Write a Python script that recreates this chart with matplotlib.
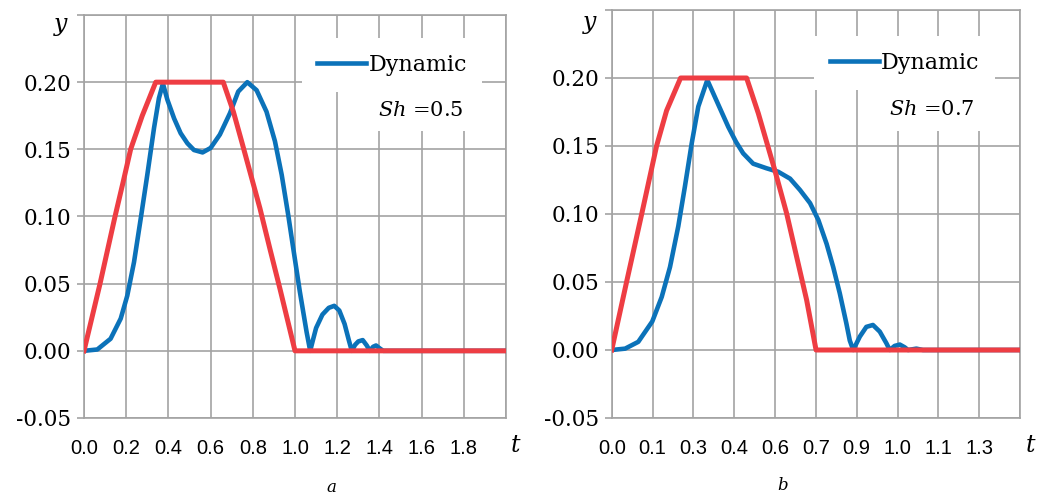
import matplotlib
matplotlib.use("Agg")
import matplotlib.pyplot as plt

plt.rcParams['mathtext.fontset'] = 'dejavuserif'

'''
Data read from the two panels
'''
# panel a, Sh = 0.5
t_red_a = [0.0, 0.076, 0.147, 0.186, 0.221, 0.276, 0.34, 0.66, 0.708, 0.747,
           0.787, 0.834, 0.881, 0.929, 1.0, 2.0]
y_red_a = [0.0, 0.05, 0.10, 0.126, 0.15, 0.175, 0.20, 0.20, 0.178, 0.156,
           0.133, 0.106, 0.076, 0.046, 0.0, 0.0]

t_blue_a = [0.0, 0.063, 0.126, 0.174, 0.205, 0.237, 0.269, 0.30, 0.332, 0.355,
            0.374, 0.395, 0.427, 0.458, 0.49, 0.521, 0.562, 0.60, 0.644, 0.692,
            0.731, 0.774, 0.818, 0.865, 0.905, 0.937, 0.968, 0.992, 1.023, 1.055,
            1.072, 1.085, 1.10, 1.13, 1.16, 1.186, 1.21, 1.235, 1.255, 1.269,
            1.285, 1.30, 1.321, 1.34, 1.355, 1.37, 1.384, 1.40, 1.418, 2.0]
y_blue_a = [0.0, 0.001, 0.009, 0.024, 0.041, 0.066, 0.0986, 0.131, 0.166, 0.188,
            0.199, 0.187, 0.173, 0.162, 0.1545, 0.1495, 0.1477, 0.151, 0.161, 0.177,
            0.193, 0.200, 0.194, 0.178, 0.156, 0.131, 0.101, 0.076, 0.044, 0.014,
            0.0, 0.008, 0.017, 0.027, 0.032, 0.0335, 0.030, 0.020, 0.008, 0.0,
            0.0045, 0.007, 0.008, 0.004, 0.0, 0.003, 0.004, 0.002, 0.0, 0.0]

# panel b, Sh = 0.7
t_red_b = [0.0, 0.052, 0.105, 0.157, 0.192, 0.241, 0.472, 0.513, 0.542, 0.571,
           0.612, 0.647, 0.682, 0.715, 1.4286]
y_red_b = [0.0, 0.05, 0.10, 0.15, 0.176, 0.20, 0.20, 0.174, 0.153, 0.132,
           0.1005, 0.0686, 0.0368, 0.0, 0.0]

t_blue_b = [0.0, 0.047, 0.093, 0.142, 0.175, 0.204, 0.233, 0.256, 0.28, 0.303,
            0.3345, 0.376, 0.408, 0.435, 0.46, 0.495, 0.542, 0.583, 0.624, 0.659,
            0.694, 0.723, 0.752, 0.775, 0.798, 0.821, 0.833, 0.845, 0.868, 0.891,
            0.914, 0.938, 0.961, 0.973, 0.99, 1.008, 1.025, 1.037, 1.066, 1.089,
            1.4286]
y_blue_b = [0.0, 0.001, 0.006, 0.021, 0.039, 0.061, 0.091, 0.120, 0.152, 0.179,
            0.1985, 0.179, 0.164, 0.153, 0.1446, 0.137, 0.1336, 0.131, 0.126, 0.1176,
            0.108, 0.0956, 0.078, 0.061, 0.0417, 0.0196, 0.007, 0.0, 0.0098, 0.017,
            0.0184, 0.0135, 0.005, 0.0, 0.003, 0.004, 0.002, 0.0, 0.001, 0.0,
            0.0]

yticks = [-0.05, 0.0, 0.05, 0.10, 0.15, 0.20, 0.25]
ytick_labels = ['-0.05', '0.00', '0.05', '0.10', '0.15', '0.20', '']

xticks_a = [0.2 * k for k in range(11)]
xtick_labels_a = ['0.0', '0.2', '0.4', '0.6', '0.8', '1.0', '1.2', '1.4', '1.6', '1.8', '']
xticks_b = [k / 7 for k in range(11)]
xtick_labels_b = ['0.0', '0.1', '0.3', '0.4', '0.6', '0.7', '0.9', '1.0', '1.1', '1.3', '']

BLUE = '#0b72b9'
RED = '#ee3d43'
GRID = '#a3a3a3'

fig = plt.figure(figsize=(10.4, 4.95), dpi=100)
ax_a = fig.add_axes([84 / 1040, 77 / 495, 422 / 1040, 403 / 495])
ax_b = fig.add_axes([611.7 / 1040, 77 / 495, 408.3 / 1040, 408 / 495])


def style(ax, xticks, xlabels, xmax):
    ax.set_xlim(0, xmax)
    ax.set_ylim(-0.05, 0.25)
    ax.grid(True, color=GRID, linewidth=1.2)
    ax.set_axisbelow(True)
    for s in ax.spines.values():
        s.set_color(GRID)
        s.set_linewidth(1.2)
    ax.tick_params(axis='y', length=5, width=1.2, color=GRID, pad=4)
    ax.tick_params(axis='x', length=0, pad=15)
    ax.set_xticks(xticks)
    ax.set_xticklabels(xlabels, fontfamily='Liberation Sans', fontsize=14.5)
    ax.set_yticks(yticks)
    ax.set_yticklabels(ytick_labels, fontfamily='DejaVu Serif', fontsize=15.5)


style(ax_a, xticks_a, xtick_labels_a, 2.0)
style(ax_b, xticks_b, xtick_labels_b, 10 / 7)

ax_a.plot(t_blue_a, y_blue_a, color=BLUE, lw=3.3, label='Dynamic', zorder=3,
          solid_joinstyle='round')
ax_a.plot(t_red_a, y_red_a, color=RED, lw=3.6, zorder=4)
ax_b.plot(t_blue_b, y_blue_b, color=BLUE, lw=3.3, label='Dynamic', zorder=3,
          solid_joinstyle='round')
ax_b.plot(t_red_b, y_red_b, color=RED, lw=3.6, zorder=4)

for ax, lx, ly, tx, ty, sh in [(ax_a, 0.73, 0.876, 0.7986, 0.762, '0.5'),
                               (ax_b, 0.718, 0.870, 0.785, 0.755, '0.7')]:
    leg = ax.legend(loc='center', bbox_to_anchor=(lx, ly), frameon=True,
                    fancybox=False, borderpad=0.7, handlelength=2.2,
                    handletextpad=0.1, prop={'family': 'DejaVu Serif', 'size': 16})
    leg.get_frame().set_edgecolor('none')
    leg.get_frame().set_facecolor('white')
    leg.get_frame().set_alpha(1)
    ax.text(tx, ty, r'$Sh$ =' + sh, transform=ax.transAxes, ha='center', va='center',
            family='DejaVu Serif', fontsize=15, zorder=5,
            bbox=dict(facecolor='white', edgecolor='none', pad=8))

# axis names and captions
fig.text(61 / 1040, 1 - 25 / 495, 'y', family='DejaVu Serif', style='italic',
         fontsize=17, ha='center', va='center')
fig.text(590 / 1040, 1 - 22 / 495, 'y', family='DejaVu Serif', style='italic',
         fontsize=17, ha='center', va='center')
fig.text(515 / 1040, 1 - 446 / 495, 't', family='DejaVu Serif', style='italic',
         fontsize=17, ha='center', va='center')
fig.text(1030 / 1040, 1 - 446 / 495, 't', family='DejaVu Serif', style='italic',
         fontsize=17, ha='center', va='center')
fig.text(331 / 1040, 1 - 487 / 495, 'a', family='DejaVu Serif', style='italic',
         fontsize=12, ha='center', va='center')
fig.text(783 / 1040, 1 - 486 / 495, 'b', family='DejaVu Serif', style='italic',
         fontsize=12, ha='center', va='center')

fig.savefig('out.png', dpi=100)
